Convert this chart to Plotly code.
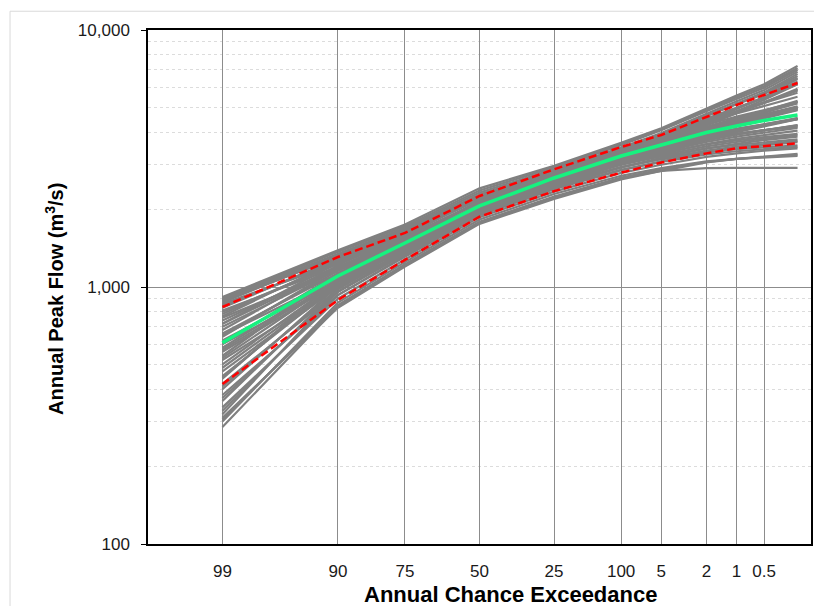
import plotly.graph_objects as go
from statistics import NormalDist

# Annual exceedance probabilities of plotted points (fraction)
aep = [0.99, 0.90, 0.75, 0.50, 0.25, 0.10, 0.05, 0.02, 0.01, 0.005, 0.002]

# Tick marks on the probability axis
tick_aep = [0.99, 0.90, 0.75, 0.50, 0.25, 0.10, 0.05, 0.02, 0.01, 0.005]
tick_text = ["99", "90", "75", "50", "25", "100", "5", "2", "1", "0.5"]

# Computed curve (green) and confidence limits (red dashed), m3/s
computed = [607, 1104, 1483, 2067, 2656, 3233, 3568, 3992, 4231, 4446, 4670]
upper_cl = [836, 1308, 1623, 2260, 2870, 3505, 3904, 4586, 5108, 5587, 6220]
lower_cl = [419, 890, 1275, 1877, 2360, 2785, 3050, 3311, 3465, 3537, 3624]

# Realization curves (gray), m3/s
realizations = [
    [915, 1390, 1750, 2420, 2960, 3640, 4150, 4950, 5560, 6150, 7250],
    [908, 1370, 1725, 2375, 2920, 3600, 4110, 4890, 5480, 6050, 7120],
    [900, 1350, 1700, 2330, 2880, 3560, 4070, 4830, 5400, 5960, 7000],
    [895, 1325, 1660, 2265, 2810, 3480, 3975, 4725, 5285, 5840, 6875],
    [890, 1300, 1620, 2200, 2740, 3400, 3880, 4620, 5170, 5720, 6750],
    [880, 1315, 1650, 2245, 2785, 3440, 3915, 4635, 5160, 5680, 6625],
    [870, 1330, 1680, 2290, 2830, 3480, 3950, 4650, 5150, 5640, 6500],
    [860, 1240, 1530, 2060, 2570, 3190, 3650, 4380, 4950, 5500, 6450],
    [850, 1260, 1570, 2130, 2650, 3280, 3730, 4420, 4950, 5450, 6300],
    [840, 1275, 1605, 2190, 2725, 3355, 3805, 4470, 4975, 5450, 6225],
    [830, 1290, 1640, 2250, 2800, 3430, 3880, 4520, 5000, 5450, 6150],
    [810, 1200, 1505, 2050, 2570, 3180, 3625, 4315, 4845, 5350, 6150],
    [800, 1230, 1560, 2140, 2680, 3300, 3730, 4350, 4800, 5230, 5900],
    [785, 1250, 1600, 2210, 2760, 3375, 3795, 4390, 4815, 5215, 5800],
    [770, 1270, 1640, 2280, 2840, 3450, 3860, 4430, 4830, 5200, 5700],
    [760, 1160, 1480, 2040, 2570, 3170, 3600, 4250, 4740, 5200, 5850],
    [740, 1200, 1550, 2150, 2700, 3300, 3680, 4200, 4540, 4850, 5300],
    [720, 1240, 1620, 2270, 2850, 3460, 3850, 4380, 4730, 5050, 5500],
    [720, 1185, 1540, 2145, 2700, 3290, 3660, 4155, 4480, 4775, 5175],
    [700, 1170, 1530, 2140, 2700, 3280, 3640, 4110, 4420, 4700, 5050],
    [680, 1215, 1600, 2250, 2830, 3420, 3790, 4280, 4600, 4880, 5250],
    [660, 1130, 1490, 2080, 2640, 3210, 3560, 4020, 4310, 4570, 4900],
    [650, 1155, 1535, 2150, 2720, 3295, 3645, 4100, 4385, 4635, 4950],
    [650, 1080, 1420, 1990, 2540, 3130, 3520, 4060, 4420, 4760, 5250],
    [640, 1180, 1580, 2220, 2800, 3380, 3730, 4180, 4460, 4700, 5000],
    [620, 1060, 1410, 1980, 2540, 3120, 3480, 3960, 4260, 4540, 4880],
    [610, 1095, 1465, 2055, 2625, 3205, 3560, 4030, 4325, 4595, 4930],
    [600, 1130, 1520, 2130, 2710, 3290, 3640, 4100, 4390, 4650, 4980],
    [600, 1020, 1360, 1920, 2460, 3040, 3410, 3920, 4260, 4580, 5000],
    [580, 1090, 1470, 2070, 2620, 3170, 3490, 3880, 4110, 4310, 4540],
    [570, 1065, 1435, 2025, 2570, 3115, 3435, 3835, 4075, 4285, 4530],
    [560, 1040, 1400, 1980, 2520, 3060, 3380, 3790, 4040, 4260, 4520],
    [540, 1130, 1530, 2150, 2700, 3240, 3550, 3920, 4130, 4300, 4500],
    [530, 1065, 1450, 2050, 2590, 3125, 3440, 3830, 4065, 4265, 4500],
    [520, 1000, 1370, 1950, 2480, 3010, 3330, 3740, 4000, 4230, 4500],
    [500, 1050, 1430, 2030, 2580, 3110, 3400, 3730, 3920, 4080, 4260],
    [485, 1025, 1405, 2005, 2545, 3060, 3345, 3665, 3845, 3995, 4160],
    [470, 1000, 1380, 1980, 2510, 3010, 3290, 3600, 3770, 3910, 4060],
    [450, 1020, 1420, 2040, 2580, 3090, 3380, 3720, 3920, 4080, 4270],
    [445, 1050, 1465, 2100, 2650, 3160, 3440, 3760, 3935, 4080, 4235],
    [440, 1080, 1510, 2160, 2720, 3230, 3500, 3800, 3950, 4080, 4200],
    [420, 960, 1340, 1930, 2440, 2920, 3180, 3460, 3610, 3730, 3850],
    [410, 985, 1380, 1990, 2515, 2995, 3250, 3525, 3665, 3780, 3895],
    [400, 1010, 1420, 2050, 2590, 3070, 3320, 3590, 3720, 3830, 3940],
    [380, 930, 1310, 1900, 2400, 2850, 3080, 3330, 3460, 3560, 3660],
    [370, 955, 1350, 1955, 2465, 2920, 3150, 3395, 3515, 3610, 3705],
    [360, 980, 1390, 2010, 2530, 2990, 3220, 3460, 3570, 3660, 3750],
    [340, 900, 1280, 1870, 2350, 2780, 2990, 3210, 3310, 3390, 3460],
    [330, 930, 1325, 1930, 2425, 2855, 3065, 3280, 3375, 3445, 3510],
    [320, 960, 1370, 1990, 2500, 2930, 3140, 3350, 3440, 3500, 3560],
    [310, 830, 1200, 1760, 2200, 2620, 2830, 3050, 3150, 3220, 3300],
    [305, 850, 1225, 1795, 2250, 2665, 2865, 3065, 3150, 3210, 3270],
    [300, 870, 1250, 1830, 2300, 2710, 2900, 3080, 3150, 3200, 3240],
    [285, 840, 1220, 1780, 2230, 2650, 2830, 2900, 2910, 2910, 2910],
]

y_tickvals = [100, 1000, 10000]
y_ticktext = ["100", "1,000", "10,000"]
y_minor = [200, 300, 400, 500, 600, 700, 800, 900,
           2000, 3000, 4000, 5000, 6000, 7000, 8000, 9000]

x_title = "<b>Annual Chance Exceedance</b>"
y_title = "<b>Annual Peak Flow (m<sup>3</sup>/s)</b>"

nd = NormalDist()
def to_z(p):
    return nd.inv_cdf(1 - p)

xs = [to_z(p) for p in aep]
tick_z = [to_z(p) for p in tick_aep]

fig = go.Figure()
for r in realizations:
    fig.add_trace(go.Scatter(x=xs, y=r, mode="lines",
                             line=dict(color="#808080", width=2.2),
                             showlegend=False, hoverinfo="skip"))
fig.add_trace(go.Scatter(x=xs, y=computed, mode="lines",
                         line=dict(color="#16F27F", width=3.5), showlegend=False))
fig.add_trace(go.Scatter(x=xs, y=upper_cl, mode="lines",
                         line=dict(color="#FF0000", width=2.5, dash="8px,4px"),
                         showlegend=False))
fig.add_trace(go.Scatter(x=xs, y=lower_cl, mode="lines",
                         line=dict(color="#FF0000", width=2.5, dash="8px,4px"),
                         showlegend=False))

font_family = "Arial, Liberation Sans, sans-serif"

# page body has an 8px margin, so the figure is sized to fit the 822x606 window
fig.update_layout(
    width=814, height=598,
    margin=dict(l=140, r=11, t=22, b=62, autoexpand=False),
    paper_bgcolor="white", plot_bgcolor="white",
    font=dict(family=font_family, size=17, color="#1a1a1a"),
    shapes=[dict(type="rect", xref="paper", yref="paper",
                 x0=-0.2081, x1=1.03, y0=-0.14, y1=1.0365,
                 line=dict(color="#d9d9d9", width=1), layer="below")],
    annotations=[
        dict(text=x_title, xref="paper", yref="paper", x=0.5468, y=-0.0973,
             xanchor="center", yanchor="middle", showarrow=False,
             font=dict(size=22, color="black")),
        dict(text=y_title, xref="paper", yref="paper", x=-0.1403, y=0.4767,
             xanchor="center", yanchor="middle", showarrow=False, textangle=-90,
             font=dict(size=20, color="black")),
    ],
)
fig.update_xaxes(
    range=[-3, 3], tickvals=tick_z, ticktext=tick_text, automargin=False,
    showgrid=True, gridcolor="#8c8c8c", gridwidth=1,
    showline=True, linecolor="black", linewidth=1.5, mirror=True,
    ticks="", zeroline=False, ticklabelstandoff=11,
)
fig.update_yaxes(
    type="log", range=[2, 4], tickvals=y_tickvals, ticktext=y_ticktext,
    automargin=False,
    showgrid=True, gridcolor="#8c8c8c", gridwidth=1,
    showline=True, linecolor="black", linewidth=1.5, mirror=True,
    ticks="outside", ticklen=5, tickcolor="black", ticklabelstandoff=8,
    zeroline=False,
    minor=dict(tickvals=y_minor, showgrid=True, gridcolor="#dcdcdc",
               griddash="dot", gridwidth=1, ticks=""),
)

fig.write_html("out.html")
